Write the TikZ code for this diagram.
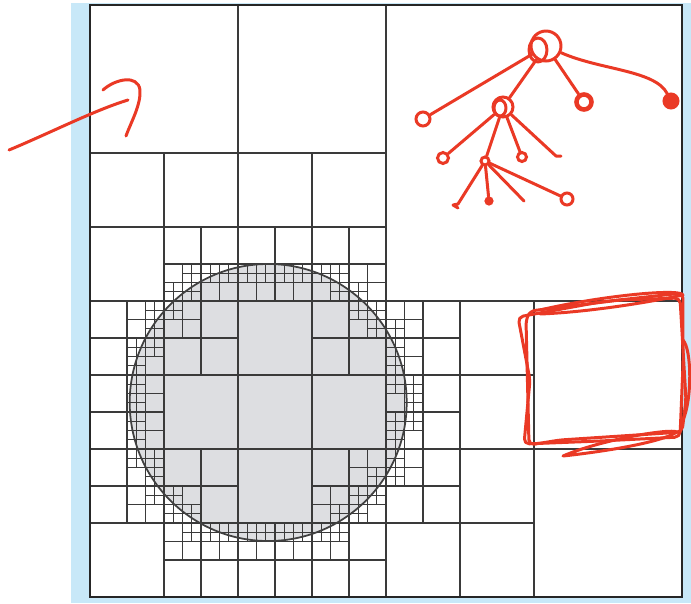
\documentclass[tikz,border=0pt]{standalone}
\usepackage{tikz}

\definecolor{inkred}{RGB}{234,57,37}
\definecolor{paneblue}{RGB}{200,232,248}
\definecolor{discgray}{RGB}{221,222,225}
\definecolor{gridgray}{RGB}{58,58,58}

% disc that drives the refinement (picture units)
\def\qcx{268.2}
\def\qcy{402.5}
\def\qcr{138.5}

% split a cell in four while it crosses the disc boundary
\newcommand\qtcell[4]{%
  \pgfmathparse{max((#1-\qcx)/37,0,(\qcx-#1-#3)/37)}\let\qdx\pgfmathresult
  \pgfmathparse{max((#2-\qcy)/37,0,(\qcy-#2-#3)/37)}\let\qdy\pgfmathresult
  \pgfmathparse{max(abs(#1-\qcx),abs(#1+#3-\qcx))/37}\let\qfx\pgfmathresult
  \pgfmathparse{max(abs(#2-\qcy),abs(#2+#3-\qcy))/37}\let\qfy\pgfmathresult
  \pgfmathparse{((\qdx*\qdx+\qdy*\qdy)<(\qcr/37)^2) && ((\qfx*\qfx+\qfy*\qfy)>(\qcr/37)^2) && (#4<6)}%
  \ifdim\pgfmathresult pt>0.5pt
    \pgfmathsetmacro\qh{#3/2}%
    \pgfmathsetmacro\qm{#1+#3/2}%
    \pgfmathsetmacro\qn{#2+#3/2}%
    \draw[qline] (\qm,#2) -- ++(0,#3) (#1,\qn) -- ++(#3,0);
    \edef\qkids{%
      {\noexpand\qtcell{#1}{#2}{\qh}{\the\numexpr#4+1\relax}}%
      {\noexpand\qtcell{\qm}{#2}{\qh}{\the\numexpr#4+1\relax}}%
      {\noexpand\qtcell{#1}{\qn}{\qh}{\the\numexpr#4+1\relax}}%
      {\noexpand\qtcell{\qm}{\qn}{\qh}{\the\numexpr#4+1\relax}}}%
    \qkids
  \fi}

\begin{document}
\begin{tikzpicture}[
    x=0.02cm,y=-0.02cm,
    qline/.style={draw=gridgray,line width=0.65pt},
    ink/.style={draw=inkred,line width=1.7pt,line cap=round,line join=round},
    knot/.style={
        circle,
        draw=inkred,
        line width=1.7pt,
        inner sep=0pt
    }
]
\useasboundingbox (0,0) rectangle (691,603);

% panel
\fill[paneblue] (71,3) rectangle (691,603);
\fill[white] (90,5) rectangle (682,597);

% disc and quadtree
\fill[discgray] (\qcx,\qcy) circle[radius=\qcr];
\qtcell{90}{5}{592}{0}
\draw[draw=black!75,line width=1pt] (\qcx,\qcy) circle[radius=\qcr];
\draw[draw=black!85,line width=1.1pt] (90,5) rectangle (682,597);

% pen arrow
\coordinate (tail) at (9,150);
\coordinate (tip) at (128,100);
\draw[ink] (tail) .. controls (50,133) and (95,110) .. (tip);
\draw[ink] (103,90) .. controls (115,79) and (138,74) .. (140,90)
    .. controls (141,105) and (131,122) .. (126,136);

% pen tree
\node[knot,minimum size=0.6cm] (root) at (546,46) {};
\node[knot,minimum size=0.28cm] (lc) at (423,119) {};
\node[knot,minimum size=0.4cm] (mid) at (503,107) {};
\node[knot,minimum size=0.3cm,line width=2.6pt] (rc1) at (584,102) {};
\node[knot,fill=inkred,minimum size=0.28cm] (rc2) at (671,101) {};
\node[knot,minimum size=0.22cm] (g1) at (443,158) {};
\node[knot,minimum size=0.16cm] (sub) at (485,161) {};
\node[knot,minimum size=0.18cm] (g3) at (522,157) {};
\coordinate (g4) at (556,156);
\coordinate (h1) at (458,204);
\node[knot,fill=inkred,minimum size=0.12cm] (h2) at (489,201) {};
\coordinate (h3) at (524,201);
\node[knot,minimum size=0.24cm] (h4) at (567,199) {};

\draw[ink] (538,50) ellipse (9 and 12);
\draw[ink] (500,108) ellipse (6 and 8);

\draw[ink] (root) -- (lc);
\draw[ink] (root) -- (mid);
\draw[ink] (root) -- (rc1);
\draw[ink] (root) .. controls (600,70) and (655,70) .. (rc2);
\draw[ink] (mid) -- (g1);
\draw[ink] (mid) -- (sub);
\draw[ink] (mid) -- (g3);
\draw[ink] (mid) -- (g4) -- ++(5,0);
\draw[ink] (sub) -- (h1) -- ++(-5,1) -- ++(5,3);
\draw[ink] (sub) -- (h2);
\draw[ink] (sub) -- (h3);
\draw[ink] (sub) -- (h4);

% pen box
\draw[ink,rounded corners=3pt] (518,317) -- (600,302) -- (683,293) -- (683,365)
    -- (680,437) -- (600,441) -- (524,444) -- (530,380) -- cycle;
\draw[ink,rounded corners=3pt] (530,311) -- (620,300) -- (680,298) -- (686,400)
    -- (682,432) -- (560,440) -- (529,445) -- (526,320) -- cycle;
\draw[ink] (540,310) .. controls (600,296) and (680,288) .. (683,295)
    .. controls (650,302) and (590,312) .. (540,314);
\draw[ink] (563,456) .. controls (600,440) and (670,428) .. (677,432)
    .. controls (660,443) and (600,452) .. (563,456);
\draw[ink] (683,340) .. controls (692,350) and (692,400) .. (683,420);
\end{tikzpicture}
\end{document}
